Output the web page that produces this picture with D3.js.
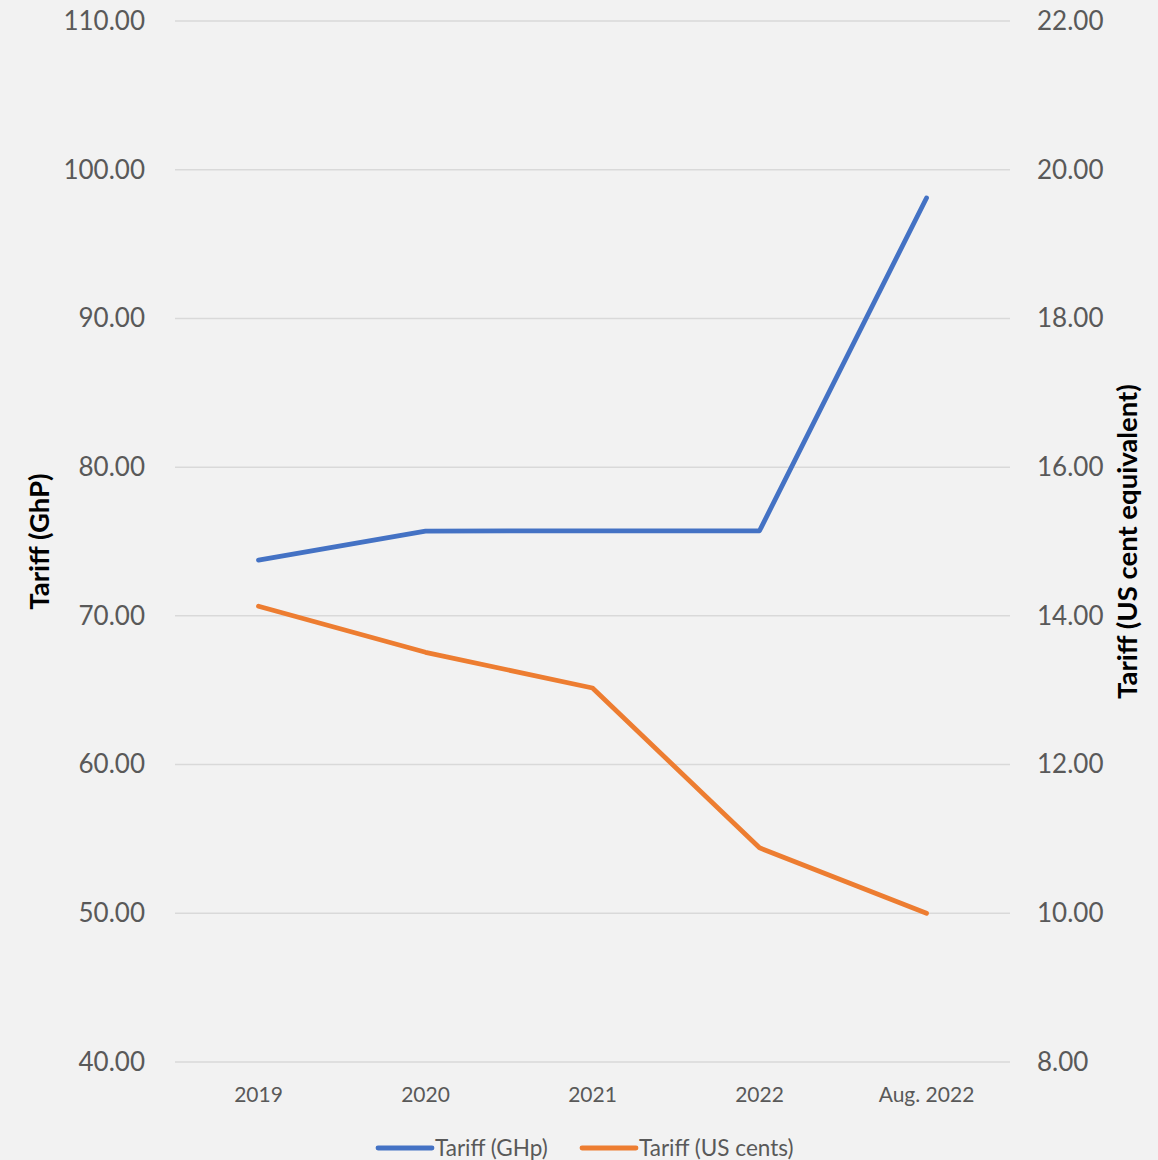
<!DOCTYPE html>
<html>
<head>
<meta charset="utf-8">
<script src="https://cdn.jsdelivr.net/npm/d3@7"></script>
<style>
  html, body { margin: 0; padding: 0; background: #f2f2f2; }
  svg { display: block; }
</style>
</head>
<body>
<div id="chart"></div>
<script>
// Periods on the x axis
const periods = ["2019", "2020", "2021", "2022", "Aug. 2022"];
// Tariff in Ghana pesewas (left axis)
const tariffGHp = [73.75, 75.7, 75.72, 75.72, 98.1];
// Tariff in US cent equivalent (right axis)
const tariffUSc = [14.13, 13.51, 13.03, 10.88, 10.0];
// Axis ticks
const leftTicks = [40, 50, 60, 70, 80, 90, 100, 110];
const rightTicks = [8, 10, 12, 14, 16, 18, 20, 22];
const seriesNames = ["Tariff (GHp)", "Tariff (US cents)"];
const seriesColors = ["#4472c4", "#ed7d31"];

const W = 1158, H = 1160;
const m = { top: 21, right: 148, bottom: 98, left: 175 };
const font = "Lato, 'Open Sans', sans-serif";

const svg = d3.select("#chart").append("svg")
  .attr("width", W).attr("height", H)
  .style("background", "#f2f2f2");

const x = d3.scaleBand().domain(periods).range([m.left, W - m.right]);
const yL = d3.scaleLinear().domain([40, 110]).range([H - m.bottom, m.top]);
const yR = d3.scaleLinear().domain([8, 22]).range([H - m.bottom, m.top]);

// Horizontal gridlines
svg.append("g").selectAll("line").data(leftTicks).join("line")
  .attr("x1", m.left).attr("x2", W - m.right)
  .attr("y1", d => yL(d)).attr("y2", d => yL(d))
  .attr("stroke", "#d9d9d9").attr("stroke-width", 1.5);

// Left axis
const gL = svg.append("g").attr("transform", `translate(${m.left - 30},0)`)
  .call(d3.axisLeft(yL).tickValues(leftTicks).tickFormat(d3.format(".2f")).tickSize(0).tickPadding(0));
gL.select(".domain").remove();
gL.selectAll("text").attr("font-family", font).attr("font-size", 26).attr("fill", "#595959");

// Right axis
const gR = svg.append("g").attr("transform", `translate(${W - m.right + 27},0)`)
  .call(d3.axisRight(yR).tickValues(rightTicks).tickFormat(d3.format(".2f")).tickSize(0).tickPadding(0));
gR.select(".domain").remove();
gR.selectAll("text").attr("font-family", font).attr("font-size", 26).attr("fill", "#595959");

// Category axis
const gX = svg.append("g").attr("transform", `translate(0,${H - m.bottom + 25})`)
  .call(d3.axisBottom(x).tickSize(0).tickPadding(0));
gX.select(".domain").remove();
gX.selectAll("text").attr("font-family", font).attr("font-size", 21).attr("fill", "#595959")
  .attr("dy", "0.71em");

// Axis titles
svg.append("text")
  .attr("transform", `translate(49,${(m.top + H - m.bottom) / 2}) rotate(-90)`)
  .attr("text-anchor", "middle").attr("font-family", font).attr("font-weight", "bold")
  .attr("font-size", 27.5).attr("fill", "#000").text("Tariff (GhP)");
svg.append("text")
  .attr("transform", `translate(1137,${(m.top + H - m.bottom) / 2}) rotate(-90)`)
  .attr("text-anchor", "middle").attr("font-family", font).attr("font-weight", "bold")
  .attr("font-size", 27.5).attr("fill", "#000").text("Tariff (US cent equivalent)");

// Series lines
const cx = d => x(d) + x.bandwidth() / 2;
const lineL = d3.line().x((d, i) => cx(periods[i])).y(d => yL(d));
const lineR = d3.line().x((d, i) => cx(periods[i])).y(d => yR(d));

svg.append("path").datum(tariffUSc).attr("d", lineR)
  .attr("fill", "none").attr("stroke", seriesColors[1]).attr("stroke-width", 4.8)
  .attr("stroke-linecap", "round").attr("stroke-linejoin", "round");
svg.append("path").datum(tariffGHp).attr("d", lineL)
  .attr("fill", "none").attr("stroke", seriesColors[0]).attr("stroke-width", 4.8)
  .attr("stroke-linecap", "round").attr("stroke-linejoin", "round");

// Legend
const legendY = 1148;
const legendX = [378, 582];
const lg = svg.append("g");
seriesNames.forEach((name, i) => {
  lg.append("line")
    .attr("x1", legendX[i]).attr("x2", legendX[i] + 54)
    .attr("y1", legendY).attr("y2", legendY)
    .attr("stroke", seriesColors[i]).attr("stroke-width", 4.8).attr("stroke-linecap", "round");
  lg.append("text")
    .attr("x", legendX[i] + 57).attr("y", legendY).attr("dy", "0.36em")
    .attr("font-family", font).attr("font-size", 22.5).attr("fill", "#595959")
    .text(name);
});
</script>
</body>
</html>
